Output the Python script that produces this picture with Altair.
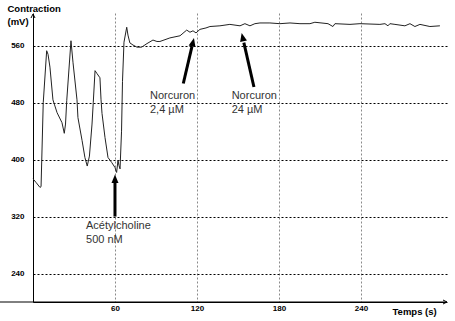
import altair as alt
import pandas as pd

# ---- trace data (time in s, contraction in mV) ----
time_s = [0.0, 2.2, 5.1, 5.9, 7.5, 10.0, 11.0, 12.4, 14.6, 15.6, 17.6, 21.2, 22.9, 23.8,
          24.7, 27.8, 29.3, 32.2, 32.9, 35.9, 38.0, 39.7, 41.3, 43.2, 44.1, 45.4, 46.8,
          49.0, 49.8, 50.5, 52.7, 54.9, 57.6, 60.0, 61.2, 62.2, 62.9, 63.7, 64.8, 65.5,
          66.6, 68.6, 69.5, 70.9, 73.2, 76.1, 79.5, 83.4, 87.8, 90.7, 92.9, 100.2, 107.6,
          112.5, 114.9, 117.1, 119.3, 122.2, 126.6, 129.5, 136.8, 144.1, 151.5, 155.1,
          158.8, 162.4, 166.1, 173.4, 180.7, 188.1, 195.4, 202.7, 206.3, 215.9, 219.5,
          221.0, 232.0, 239.3, 253.9, 257.6, 259.8, 261.2, 264.9, 272.2, 275.9, 279.5,
          283.2, 290.5, 297.8]
contraction_mV = [373, 368, 361, 362, 480, 553, 548, 530, 484, 478, 466, 452, 437, 450,
                  483, 567, 536, 484, 459, 427, 403, 391, 405, 450, 480, 525, 521,
                  515, 484, 465, 431, 403, 396, 389, 382, 399, 392, 387, 440, 510,
                  565, 586, 575, 564, 561, 558, 558, 563, 568, 566, 566, 571, 574,
                  582, 579, 581, 578, 583, 585, 587, 588, 590, 588, 591,
                  588, 591, 592, 592, 591, 592, 591, 591, 593, 591, 587,
                  591, 590, 591, 590, 591, 588, 591, 590, 588, 591, 587,
                  590, 587, 588]

x_ticks = [60, 120, 180, 240]
y_ticks = [240, 320, 400, 480, 560]

# ---- annotations ----
ann_text = ["Acétylcholine", "500 nM", "Norcuron", "2,4 µM", "Norcuron", "24 µM"]
ann_t = [38.8, 38.8, 85.6, 85.6, 145.4, 145.4]
ann_v = [303.0, 283.5, 485.0, 465.5, 485.0, 465.5]

arrow_base_t = [60.0, 110.0, 161.7]
arrow_base_v = [320.0, 507.0, 502.0]
arrow_tip_t = [60.0, 117.8, 152.7]
arrow_tip_v = [379.0, 571.0, 578.0]
arrow_angle = [0, 13, 347]

X_DOMAIN = [0, 303]
Y_DOMAIN = [200, 606]

trace = pd.DataFrame({"t": time_s, "v": contraction_mV})
ann = pd.DataFrame({"t": ann_t, "v": ann_v, "label": ann_text})
frac = 0.82
arrows = pd.DataFrame({
    "t0": arrow_base_t, "v0": arrow_base_v,
    "t1": [b + frac * (e - b) for b, e in zip(arrow_base_t, arrow_tip_t)],
    "v1": [b + frac * (e - b) for b, e in zip(arrow_base_v, arrow_tip_v)],
    "tt": arrow_tip_t, "vt": arrow_tip_v, "angle": arrow_angle,
})

FONT = "Liberation Sans"

xscale = alt.Scale(domain=X_DOMAIN, nice=False, zero=False)
yscale = alt.Scale(domain=Y_DOMAIN, nice=False, zero=False)

xaxis = alt.Axis(values=x_ticks, grid=True, gridColor="#8a8a8a", gridDash=[2, 2],
                 gridWidth=1, domainColor="#000", domainWidth=1, ticks=False,
                 labelFont=FONT, labelFontSize=8, labelFontWeight="bold",
                 labelColor="#000", labelPadding=2, labelFlush=False,
                 title="Temps (s)", titleFont=FONT, titleFontSize=9.5,
                 titleFontWeight="bold", titleColor="#000", titleAlign="left",
                 titleBaseline="middle", titleX=359, titleY=9, titleAnchor="start")
yaxis = alt.Axis(values=y_ticks, grid=True, gridColor="#000", gridDash=[2, 2],
                 gridWidth=1, domainColor="#000", domainWidth=1, ticks=False,
                 labelFont=FONT, labelFontSize=8, labelFontWeight="bold",
                 labelColor="#000", labelPadding=9, labelFlush=False,
                 title=["Contraction", "(mV)"], titleFont=FONT, titleFontSize=9.5,
                 titleFontWeight="bold", titleColor="#000", titleAngle=0,
                 titleAlign="left", titleBaseline="top", titleX=-26, titleY=-10,
                 titleLineHeight=13, titleAnchor="start")

line = alt.Chart(trace).mark_line(color="#222", strokeWidth=1).encode(
    x=alt.X("t:Q", scale=xscale, axis=xaxis),
    y=alt.Y("v:Q", scale=yscale, axis=yaxis),
)

ext = alt.Chart(pd.DataFrame({"k": [0]})).mark_rule(color="#000", strokeWidth=1).encode(
    x=alt.value(-33), x2=alt.value(414), y=alt.value(289))

yhead = alt.Chart(pd.DataFrame({"k": [0]})).mark_point(
    shape="M-0.8,1.6L0,0L0.8,1.6", filled=False, size=25, color="#000",
    strokeWidth=1, opacity=1).encode(x=alt.value(0), y=alt.value(1))
xhead = alt.Chart(pd.DataFrame({"k": [0]})).mark_point(
    shape="M-1.6,-0.8L0,0L-1.6,0.8", filled=False, size=25, color="#000",
    strokeWidth=1, opacity=1).encode(x=alt.value(414), y=alt.value(289))

shafts = alt.Chart(arrows).mark_rule(color="#000", strokeWidth=3).encode(
    x=alt.X("t0:Q", scale=xscale), y=alt.Y("v0:Q", scale=yscale),
    x2="t1:Q", y2="v1:Q")
heads = alt.Chart(arrows).mark_point(
    shape="M0,0L0.7,1.7L-0.7,1.7Z", filled=True, size=100, color="#000",
    opacity=1, strokeWidth=0).encode(
    x=alt.X("tt:Q", scale=xscale), y=alt.Y("vt:Q", scale=yscale),
    angle=alt.Angle("angle:Q", scale=None))

labels = alt.Chart(ann).mark_text(align="left", baseline="alphabetic", font=FONT,
                                  fontSize=11, color="#333").encode(
    x=alt.X("t:Q", scale=xscale), y=alt.Y("v:Q", scale=yscale), text="label:N")

chart = alt.layer(line, ext, shafts, heads, labels, yhead, xhead).properties(
    width=414, height=289,
    autosize=alt.AutoSizeParams(type="none"),
    padding={"left": 33, "top": 13, "right": 8, "bottom": 19},
    background="white",
).configure_view(stroke=None)

chart.save("out.html", embed_options={"renderer": "svg", "actions": False})
